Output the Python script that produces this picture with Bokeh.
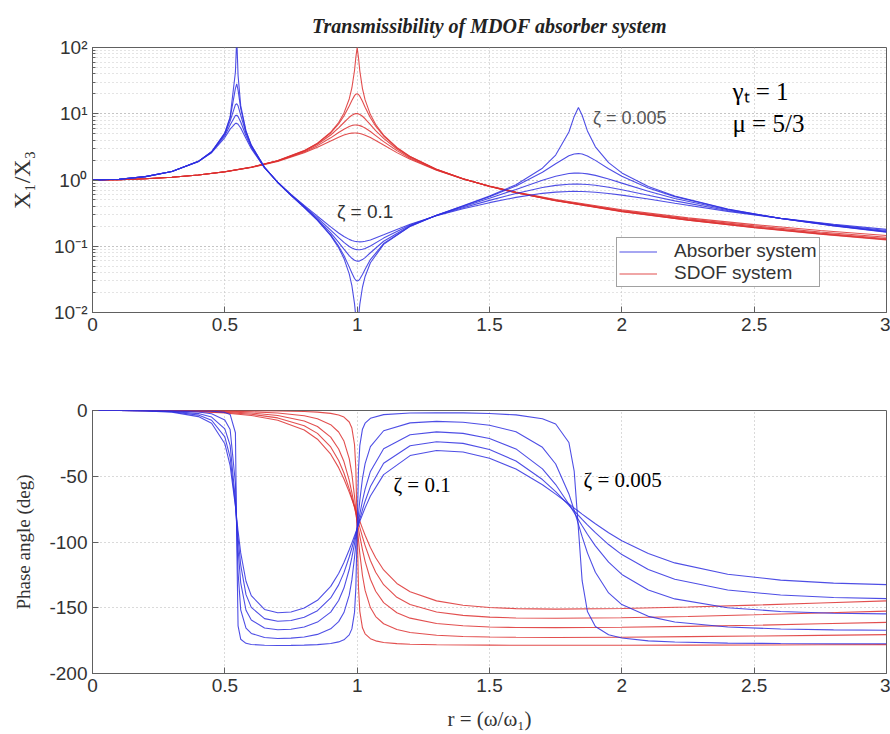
from bokeh.plotting import figure
from bokeh.models import (Range1d, FixedTicker, CustomJSTickFormatter, Legend, LegendItem, Label)
from bokeh.layouts import column
from bokeh.embed import file_html
from bokeh.resources import INLINE

# ---------------- data ----------------
zeta_labels = ["0.1", "0.075", "0.05", "0.025", "0.005"]

# SDOF system (red)
r_sdof = [0, 0.1, 0.2, 0.3, 0.4, 0.5, 0.6, 0.7, 0.8, 0.85, 0.9, 0.93, 0.95, 0.97, 0.98, 0.99,
          0.995, 1.0, 1.005, 1.01, 1.02, 1.03, 1.05, 1.07, 1.1, 1.15, 1.2, 1.3, 1.4, 1.5, 1.6,
          1.75, 2.0, 2.25, 2.5, 2.75, 3.0]
sdof_mag_z0100 = [1, 1.010, 1.042, 1.099, 1.189, 1.328, 1.547, 1.909, 2.570, 3.117, 3.882, 4.424,
                  4.766, 5.023, 5.096, 5.123, 5.117, 5.099, 5.068, 5.026, 4.908, 4.753, 4.373, 3.957,
                  3.367, 2.590, 2.052, 1.401, 1.0385, 0.8121, 0.6593, 0.5065, 0.3559, 0.2683, 0.2120,
                  0.1733, 0.1454]
sdof_mag_z0075 = [1, 1.010, 1.042, 1.099, 1.190, 1.330, 1.554, 1.931, 2.654, 3.301, 4.329, 5.199,
                  5.850, 6.434, 6.639, 6.748, 6.760, 6.741, 6.694, 6.618, 6.393, 6.093, 5.387, 4.684,
                  3.795, 2.775, 2.137, 1.421, 1.0398, 0.8070, 0.6515, 0.4973, 0.3463, 0.2589, 0.2029,
                  0.1645, 0.1369]
sdof_mag_z0050 = [1, 1.010, 1.042, 1.099, 1.190, 1.332, 1.559, 1.947, 2.720, 3.458, 4.776, 6.123,
                  7.379, 8.845, 9.506, 9.951, 10.05, 10.05, 9.95, 9.760, 9.162, 8.401, 6.852, 5.583,
                  4.244, 2.940, 2.208, 1.436, 1.0408, 0.8032, 0.6458, 0.4905, 0.3392, 0.2519, 0.1961,
                  0.1579, 0.1304]
sdof_mag_z0025 = [1, 1.010, 1.042, 1.099, 1.190, 1.333, 1.562, 1.957, 2.763, 3.565, 5.127, 7.007,
                  9.231, 13.10, 15.89, 18.77, 19.73, 20.02, 19.54, 18.42, 15.39, 12.55, 8.69, 6.483,
                  4.613, 3.058, 2.256, 1.446, 1.0414, 0.8010, 0.6420, 0.4860, 0.3348, 0.2476, 0.1919,
                  0.1538, 0.1264]
sdof_mag_z0005 = [1, 1.010, 1.042, 1.099, 1.190, 1.333, 1.5625, 1.961, 2.777, 3.603, 5.257, 7.385,
                  10.21, 16.70, 24.5, 45.0, 71.0, 100.0, 70.4, 44.4, 24.0, 16.19, 9.71, 6.883,
                  4.756, 3.100, 2.272, 1.449, 1.0417, 0.8000, 0.6410, 0.4848, 0.3334, 0.2462, 0.1905,
                  0.1524, 0.1250]

sdof_ph_z0100 = [0, 0, -0.09, -0.34, -0.87, -1.88, -3.78, -7.38, -14.87, -21.84, -33.25, -43.46,
                 -52.08, -62.08, -67.49, -73.06, -75.88, -78.69, -81.5, -84.26, -89.67, -94.83,
                 -104.15, -112.02, -121.26, -131.55, -137.89, -144.78, -148.1, -149.8, -150.67,
                 -151.08, -150.6, -149.45, -147.99, -146.4, -144.75]
sdof_ph_z0075 = [0, 0, -0.07, -0.26, -0.65, -1.42, -2.86, -5.64, -11.59, -17.41, -27.70, -37.99,
                 -47.51, -59.61, -66.56, -73.92, -77.69, -81.47, -85.2, -88.94, -96.09, -102.73,
                 -114.11, -122.96, -132.47, -142.07, -147.55, -153.19, -155.8, -157.12, -157.75,
                 -157.96, -157.59, -156.6, -155.35, -153.98, -152.6]
sdof_ph_z0050 = [0, 0, -0.05, -0.17, -0.43, -0.95, -1.92, -3.81, -7.95, -12.17, -20.21, -29.23,
                 -38.83, -53.11, -62.4, -72.99, -78.6, -84.29, -89.96, -95.49, -105.79, -114.72,
                 -128.32, -137.45, -146.07, -153.81, -157.9, -161.92, -163.67, -164.63, -165.05,
                 -165.08, -164.88, -164.15, -163.31, -162.22, -161.15]
sdof_ph_z0025 = [0, 0, -0.02, -0.09, -0.22, -0.48, -0.97, -1.92, -4.05, -6.28, -10.75, -16.34,
                 -23.26, -36.59, -48.25, -65.27, -75.81, -87.14, -98.4, -108.82, -125.46, -136.83,
                 -149.88, -156.68, -162.17, -166.6, -168.8, -170.9, -171.83, -172.28, -172.49,
                 -172.57, -172.38, -171.99, -171.51, -170.97, -170.4]
sdof_ph_z0005 = [0, 0, 0, -0.02, -0.04, -0.1, -0.19, -0.39, -0.81, -1.27, -2.20, -3.41,
                 -5.02, -8.76, -13.34, -25.88, -44.36, -89.43, -134.35, -152.74, -165.25, -169.81,
                 -173.55, -175.17, -176.37, -177.3, -177.75, -178.18, -178.38, -178.45, -178.5,
                 -178.49, -178.47, -178.39, -178.3, -178.19, -178.07]

# Absorber (MDOF) system (blue)
r_abs = [0, 0.1, 0.2, 0.3, 0.4, 0.45, 0.5, 0.52, 0.54, 0.545, 0.55, 0.56, 0.58, 0.6, 0.65,
         0.7, 0.75, 0.8, 0.85, 0.9, 0.93, 0.95, 0.97, 0.98, 0.99, 0.995, 1.0, 1.005, 1.01, 1.02,
         1.03, 1.05, 1.1, 1.2, 1.3, 1.4, 1.5, 1.6, 1.7, 1.75, 1.8, 1.82, 1.836, 1.85, 1.87,
         1.9, 1.95, 2.0, 2.1, 2.2, 2.4, 2.6, 2.8, 3.0]
abs_mag_z0100 = [1, 1.028, 1.123, 1.340, 1.894, 2.585, 4.377, 5.855, 7.164, 7.149, 6.937, 6.098,
                 4.222, 2.975, 1.523, 0.9257, 0.6084, 0.4138, 0.2842, 0.1959, 0.1586, 0.1402,
                 0.1270, 0.1224, 0.1192, 0.1181, 0.1173, 0.1168, 0.1166, 0.1171, 0.1187, 0.1244,
                 0.1489, 0.2150, 0.2882, 0.3676, 0.4549, 0.5473, 0.6292, 0.6570, 0.6710, 0.6723,
                 0.6714, 0.6694, 0.6646, 0.6532, 0.6258, 0.5913, 0.5156, 0.4450, 0.3365, 0.2642,
                 0.2149, 0.1797]
abs_mag_z0075 = [1, 1.028, 1.123, 1.341, 1.902, 2.622, 4.664, 6.747, 9.417, 9.487, 9.098, 7.514,
                 4.658, 3.124, 1.538, 0.9218, 0.5991, 0.4013, 0.2685, 0.1757, 0.1350, 0.1143,
                 0.0992, 0.09405, 0.09059, 0.0895, 0.08883, 0.08856, 0.08869, 0.09006, 0.09274,
                 0.1012, 0.1327, 0.2086, 0.2904, 0.3824, 0.4925, 0.6263, 0.7708, 0.8296, 0.8636,
                 0.8680, 0.8674, 0.8640, 0.8547, 0.8320, 0.7777, 0.7133, 0.5872, 0.4845, 0.3464,
                 0.2636, 0.2101, 0.1731]
abs_mag_z0050 = [1, 1.028, 1.123, 1.342, 1.909, 2.649, 4.912, 7.728, 13.71, 14.18, 13.18, 9.516,
                 5.077, 3.248, 1.549, 0.9188, 0.5921, 0.3920, 0.2565, 0.1593, 0.1147, 0.09063,
                 0.07221, 0.06574, 0.06148, 0.06026, 0.05965, 0.05964, 0.06021, 0.06292, 0.06736,
                 0.07973, 0.1191, 0.2037, 0.2926, 0.3960, 0.5303, 0.7210, 0.9930, 1.1422, 1.2504,
                 1.2689, 1.2710, 1.2632, 1.2380, 1.1755, 1.0376, 0.8973, 0.6746, 0.5264, 0.3555,
                 0.2632, 0.2063, 0.1679]
abs_mag_z0025 = [1, 1.028, 1.123, 1.342, 1.913, 2.666, 5.082, 8.58, 24.19, 28.29, 22.78, 11.96,
                 5.395, 3.332, 1.556, 0.9170, 0.5878, 0.3862, 0.2488, 0.1484, 0.1003, 0.07247,
                 0.0488, 0.03935, 0.03262, 0.03071, 0.02995, 0.0304, 0.03193, 0.0375, 0.04512,
                 0.06292, 0.1098, 0.2005, 0.2942, 0.4058, 0.5600, 0.8111, 1.310, 1.7588, 2.318,
                 2.4695, 2.505, 2.4638, 2.3084, 1.9787, 1.4794, 1.140, 0.7591, 0.5611, 0.3621,
                 0.2630, 0.2037, 0.1645]
abs_mag_z0005 = [1, 1.028, 1.123, 1.342, 1.914, 2.672, 5.14, 8.92, 42.72, 139.3, 38.0, 13.26,
                 5.511, 3.36, 1.558, 0.9163, 0.5864, 0.3842, 0.2463, 0.1448, 0.09515, 0.06554,
                 0.03827, 0.02551, 0.01361, 0.00854, 0.0060, 0.00843, 0.01323, 0.02405, 0.0350,
                 0.05639, 0.1066, 0.1995, 0.2948, 0.4092, 0.5710, 0.8493, 1.508, 2.383, 5.309,
                 9.121, 12.466, 9.505, 5.506, 3.171, 1.8274, 1.2787, 0.7954, 0.5744, 0.3644,
                 0.2629, 0.2029, 0.1633]

abs_ph_z0100 = [0, 0, -0.29, -1.25, -4.64, -9.71, -25.26, -41.92, -72.8, -82.29, -91.65, -108.28,
                -129.85, -140.82, -151.31, -153.85, -153.25, -150.25, -144.31, -133.73, -123.95,
                -115.64, -105.92, -100.65, -95.23, -92.48, -89.74, -87.01, -84.32, -79.06, -74.05,
                -65.04, -48.78, -34.28, -30.45, -31.55, -36.27, -44.54, -56.47, -63.58, -71.14,
                -74.2, -76.65, -78.78, -81.78, -86.15, -92.95, -99.01, -108.82, -115.9, -124.54,
                -128.98, -131.28, -132.4]
abs_ph_z0075 = [0, 0, -0.22, -0.94, -3.50, -7.41, -20.09, -35.59, -71.84, -84.48, -96.95, -117.58,
                -140.02, -149.71, -158.25, -160.22, -159.69, -157.22, -152.2, -142.53, -132.6,
                -123.29, -111.41, -104.57, -97.33, -93.61, -89.89, -86.18, -82.53, -75.5, -68.98,
                -57.85, -40.16, -26.82, -23.73, -24.99, -29.66, -38.41, -52.52, -61.76, -72.07,
                -76.34, -79.77, -82.74, -86.9, -92.89, -101.93, -109.57, -120.91, -128.31, -136.5,
                -140.35, -142.21, -143.04]
abs_ph_z0050 = [0, 0, -0.14, -0.63, -2.35, -5.0, -14.02, -26.55, -68.14, -86.87, -105.23, -131.07,
                -151.91, -159.33, -165.39, -166.73, -166.34, -164.58, -160.89, -153.29, -144.49,
                -135.04, -120.92, -111.71, -101.2, -95.62, -89.97, -84.33, -78.85, -68.63, -59.78,
                -46.36, -29.06, -18.46, -16.29, -17.4, -21.29, -29.22, -44.42, -56.31, -71.26,
                -77.81, -83.09, -87.7, -94.09, -102.98, -115.36, -124.66, -136.56, -143.28, -149.95,
                -152.84, -154.15, -154.68]
abs_ph_z0025 = [0, 0, -0.07, -0.31, -1.18, -2.52, -7.22, -14.41, -55.27, -89.93, -123.11, -151.59,
                -165.44, -169.51, -172.66, -173.34, -173.13, -172.22, -170.26, -166.0, -160.54,
                -153.68, -140.42, -128.81, -111.83, -101.3, -90.0, -78.75, -68.36, -51.75, -40.42,
                -27.47, -15.41, -9.42, -8.3, -8.95, -11.2, -16.17, -27.99, -40.7, -63.45, -75.91,
                -86.64, -95.97, -108.25, -123.04, -138.73, -147.6, -156.55, -160.8, -164.62,
                -166.18, -166.86, -167.12]
abs_ph_z0005 = [0, 0, 0, -0.06, -0.24, -0.5, -1.46, -2.97, -16.9, -99.5, -163.75, -173.93,
                -177.05, -177.89, -178.53, -178.67, -178.63, -178.44, -178.04, -177.15, -175.97,
                -174.37, -170.63, -166.07, -153.53, -135.07, -90.0, -45.08, -26.69, -14.2, -9.64,
                -5.92, -3.15, -1.89, -1.67, -1.8, -2.28, -3.36, -6.24, -10.23, -24.35, -46.14,
                -90.19, -129.42, -152.87, -164.3, -170.55, -173.04, -175.17, -176.1, -176.9,
                -177.22, -177.36, -177.41]

x_ticks = [0, 0.5, 1, 1.5, 2, 2.5, 3]
phase_ticks = [0, -50, -100, -150, -200]

# ---------------- styling ----------------
BLUE = "#2f2fe0"
RED = "#dd3030"
SANS = "Liberation Sans"
SERIF = "Liberation Serif"
AX = "#606060"
LBL = "#333333"
GRID = "#b4b4b4"

sdof_mag = [sdof_mag_z0100, sdof_mag_z0075, sdof_mag_z0050, sdof_mag_z0025, sdof_mag_z0005]
sdof_ph = [sdof_ph_z0100, sdof_ph_z0075, sdof_ph_z0050, sdof_ph_z0025, sdof_ph_z0005]
abs_mag = [abs_mag_z0100, abs_mag_z0075, abs_mag_z0050, abs_mag_z0025, abs_mag_z0005]
abs_ph = [abs_ph_z0100, abs_ph_z0075, abs_ph_z0050, abs_ph_z0025, abs_ph_z0005]

xfmt = CustomJSTickFormatter(code="return tick.toString();")
logfmt = CustomJSTickFormatter(code="""
const e = Math.round(Math.log10(tick));
const sup = {"-": "\u207b", "0": "\u2070", "1": "\u00b9", "2": "\u00b2", "3": "\u00b3"};
return "10" + String(e).split("").map(c => sup[c]).join("");
""")


def style_axis(ax):
    ax.axis_line_color = AX
    ax.major_tick_line_color = AX
    ax.minor_tick_line_color = AX
    ax.major_tick_in = 6
    ax.major_tick_out = 0
    ax.minor_tick_in = 3
    ax.minor_tick_out = 0
    ax.major_label_text_font = SANS
    ax.major_label_text_font_size = "19px"
    ax.major_label_text_color = LBL


# ---------------- top: magnitude ----------------
top = figure(width=890, height=336, y_axis_type="log",
             x_range=Range1d(0, 3), y_range=Range1d(0.01, 100),
             output_backend="svg", toolbar_location=None,
             min_border_left=92, min_border_right=4, min_border_top=47, min_border_bottom=24)
top.outline_line_color = AX
top.background_fill_color = "white"
top.border_fill_color = "white"

top.title.text = "Transmissibility of MDOF absorber system"
top.title.align = "center"
top.title.text_font = SERIF
top.title.text_font_style = "bold italic"
top.title.text_font_size = "20px"
top.title.text_color = "#222222"
top.title.standoff = 21

top.xaxis.ticker = FixedTicker(ticks=x_ticks)
top.xaxis.formatter = xfmt
top.yaxis.formatter = logfmt
style_axis(top.xaxis[0])
style_axis(top.yaxis[0])
top.yaxis.axis_label = "X\u2081/X\u2083"
top.yaxis.axis_label_text_font = SERIF
top.yaxis.axis_label_text_font_style = "normal"
top.yaxis.axis_label_text_font_size = "24px"
top.yaxis.axis_label_text_color = LBL
top.yaxis.axis_label_standoff = 16

top.xgrid.grid_line_color = GRID
top.xgrid.grid_line_dash = "1 3"
top.ygrid.grid_line_color = GRID
top.ygrid.grid_line_dash = "1 3"
top.ygrid.minor_grid_line_color = "#c8c8c8"
top.ygrid.minor_grid_line_dash = "1 3"

red_top = []
for ys in sdof_mag:
    red_top.append(top.line(r_sdof, ys, line_color=RED, line_width=1.1, line_alpha=0.85))
blue_top = []
for ys in abs_mag:
    blue_top.append(top.line(r_abs, ys, line_color=BLUE, line_width=1.1, line_alpha=0.85))

legend = Legend(items=[LegendItem(label="Absorber system", renderers=[blue_top[0]]),
                       LegendItem(label="SDOF system", renderers=[red_top[0]])],
                location=(524, 25))
legend.label_text_font = SANS
legend.label_text_font_size = "19px"
legend.label_text_line_height = 1.0
legend.label_text_color = LBL
legend.glyph_width = 38
legend.glyph_height = 19
legend.label_height = 19
legend.label_standoff = 17
legend.padding = 2
legend.spacing = 0
legend.margin = 0
legend.border_line_color = "#444444"
legend.background_fill_color = "white"
legend.background_fill_alpha = 1.0
top.add_layout(legend)

top.add_layout(Label(x=1.03, y=0.34, text="\u03b6 = 0.1", text_align="center",
                     text_baseline="middle", text_font=SANS, text_font_size="19px",
                     text_color="#333333"))
top.add_layout(Label(x=2.03, y=8.5, text="\u03b6 = 0.005", text_align="center",
                     text_baseline="middle", text_font=SANS, text_font_size="18px",
                     text_color="#555555"))
top.add_layout(Label(x=2.418, y=22.0, text="\u03b3\u209c = 1", text_align="left",
                     text_baseline="middle", text_font=SERIF, text_font_size="25px",
                     text_color="black"))
top.add_layout(Label(x=2.418, y=7.25, text="\u03bc = 5/3", text_align="left",
                     text_baseline="middle", text_font=SERIF, text_font_size="25px",
                     text_color="black"))

# ---------------- bottom: phase ----------------
bot = figure(width=890, height=398, x_range=Range1d(0, 3), y_range=Range1d(-200, 0),
             output_backend="svg", toolbar_location=None,
             min_border_left=92, min_border_right=4, min_border_top=74, min_border_bottom=61)
bot.outline_line_color = AX
bot.background_fill_color = "white"
bot.border_fill_color = "white"
bot.xaxis.ticker = FixedTicker(ticks=x_ticks)
bot.xaxis.formatter = xfmt
bot.yaxis.ticker = FixedTicker(ticks=phase_ticks)
bot.yaxis.formatter = xfmt
style_axis(bot.xaxis[0])
style_axis(bot.yaxis[0])
bot.yaxis.axis_label = "Phase angle (deg)"
bot.yaxis.axis_label_text_font = SERIF
bot.yaxis.axis_label_text_font_style = "normal"
bot.yaxis.axis_label_text_font_size = "19px"
bot.yaxis.axis_label_text_color = LBL
bot.yaxis.axis_label_standoff = 12
bot.xaxis.axis_label = "r = (\u03c9/\u03c9\u2081)"
bot.xaxis.axis_label_text_font = SERIF
bot.xaxis.axis_label_text_font_style = "normal"
bot.xaxis.axis_label_text_font_size = "21px"
bot.xaxis.axis_label_text_color = LBL
bot.xaxis.axis_label_standoff = 12

bot.xgrid.grid_line_color = GRID
bot.xgrid.grid_line_dash = "1 3"
bot.ygrid.grid_line_color = GRID
bot.ygrid.grid_line_dash = "1 3"

for ys in sdof_ph:
    bot.line(r_sdof, ys, line_color=RED, line_width=1.1, line_alpha=0.85)
for ys in abs_ph:
    bot.line(r_abs, ys, line_color=BLUE, line_width=1.1, line_alpha=0.85)

bot.add_layout(Label(x=1.137, y=-57, text="\u03b6 = 0.1", text_align="left",
                     text_baseline="middle", text_font=SERIF, text_font_size="21px",
                     text_color="black"))
bot.add_layout(Label(x=1.855, y=-53, text="\u03b6 = 0.005", text_align="left",
                     text_baseline="middle", text_font=SERIF, text_font_size="21px",
                     text_color="black"))

page = column(top, bot, spacing=0)
open("out.html", "w").write(file_html(page, INLINE))
